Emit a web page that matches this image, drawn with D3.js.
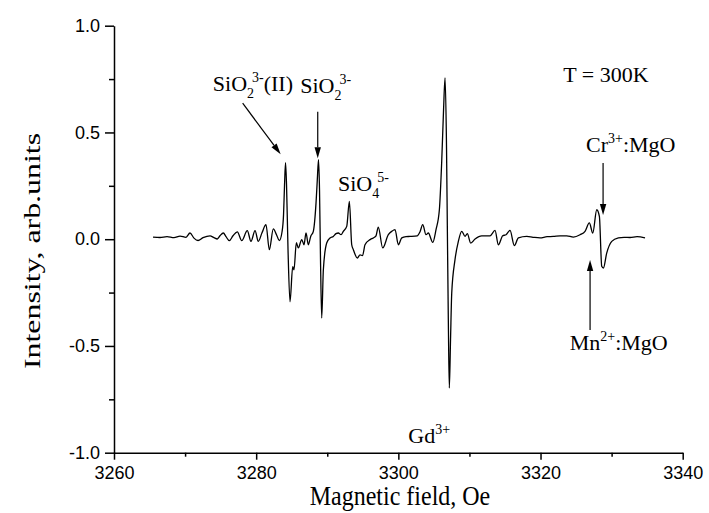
<!DOCTYPE html>
<html><head><meta charset="utf-8">
<script src="https://cdn.jsdelivr.net/npm/d3@7"></script>
<style>html,body{margin:0;padding:0;background:#fff}svg{display:block}</style>
</head><body>
<svg id="c" width="709" height="513"></svg>
<script>
// ---- data ----
const fieldOe = [3265.49,3266.47,3267.46,3268.44,3269.29,3270.13,3270.69,3271.25,3271.82,3272.52,3273.51,3274.07,3274.53,3274.91,3275.38,3275.76,3276.22,3276.74,3277.35,3277.97,3278.75,3279.27,3279.84,3280.30,3280.82,3281.38,3281.85,3282.41,3282.86,3283.26,3283.64,3283.85,3283.99,3284.13,3284.27,3284.48,3284.76,3285.14,3285.32,3285.65,3285.93,3286.41,3286.73,3287.01,3287.34,3287.67,3288.04,3288.42,3288.60,3288.77,3288.91,3289.05,3289.22,3289.45,3289.92,3290.39,3290.85,3291.23,3291.56,3291.94,3292.26,3292.74,3293.11,3293.44,3293.67,3294.23,3294.61,3294.96,3295.31,3296.02,3296.48,3296.86,3297.18,3297.80,3298.59,3299.07,3299.53,3300.00,3300.48,3301.08,3301.64,3302.67,3303.05,3303.43,3303.89,3304.22,3304.84,3305.30,3305.77,3306.11,3306.36,3306.57,3306.78,3306.89,3307.03,3307.17,3307.34,3307.51,3307.97,3308.44,3308.92,3309.38,3309.70,3310.18,3310.79,3311.73,3312.90,3313.60,3314.07,3314.68,3315.15,3315.71,3316.32,3316.88,3318.06,3318.95,3319.93,3320.92,3321.80,3322.75,3323.69,3324.62,3325.56,3326.26,3326.87,3327.35,3327.91,3328.28,3328.61,3328.84,3329.31,3330.02,3330.95,3331.75,3332.59,3333.58,3334.70];
const intensity = [0.010,0.008,0.012,0.007,0.014,0.009,0.029,0.005,-0.006,0.007,0.016,0.007,0.001,0.016,0.029,0.012,-0.007,0.016,0.034,-0.007,0.040,-0.010,0.040,-0.010,0.030,0.068,-0.049,0.048,0.021,-0.006,0.035,0.115,0.255,0.359,0.255,-0.049,-0.293,-0.129,-0.143,-0.016,-0.041,-0.002,-0.026,0.029,-0.026,0.013,0.037,0.170,0.279,0.373,0.232,-0.096,-0.369,-0.143,-0.018,0.006,0.013,0.026,0.029,0.021,0.037,0.060,0.177,-0.026,-0.049,-0.088,-0.073,-0.077,-0.026,-0.002,0.006,0.016,0.057,-0.041,0.021,0.037,0.045,-0.026,0.006,0.012,0.013,0.016,0.035,0.068,0.021,0.029,-0.015,0.045,0.138,0.373,0.607,0.756,0.420,0.060,-0.377,-0.697,-0.471,-0.252,-0.096,-0.010,0.037,0.013,0.026,-0.018,0.001,0.016,0.016,0.041,-0.026,0.016,0.021,0.041,-0.030,0.006,0.013,0.009,0.006,0.012,0.013,0.016,0.016,0.010,0.021,0.037,0.076,0.029,0.138,0.107,-0.127,-0.135,-0.065,-0.010,0.006,0.009,0.008,0.012,0.006];

const xTickValues = [3260,3280,3300,3320,3340];
const xTickLabels = ["3260","3280","3300","3320","3340"];
const xMinorTicks = [3270,3290,3310,3330];
const yTickValues = [1.0,0.5,0.0,-0.5,-1.0];
const yTickLabels = ["1.0","0.5","0.0","-0.5","-1.0"];
const yMinorTicks = [0.75,0.25,-0.25,-0.75];

const xTitle = "Magnetic field, Oe";
const yTitle = "Intensity, arb.units";

// annotation labels: parts [text, kind] ; kind: n normal, b subscript, p superscript
const labelParts = [
  [["SiO","n"],["2","b"],["3-","p"],["(II)","n"]],
  [["SiO","n"],["2","b"],["3-","p"]],
  [["SiO","n"],["4","b"],["5-","p"]],
  [["Gd","n"],["3+","p"]],
  [["Cr","n"],["3+","p"],[":MgO","n"]],
  [["Mn","n"],["2+","p"],[":MgO","n"]],
  [["T = 300K","n"]]
];
const labelX = [3273.9, 3286.2, 3291.5, 3301.4, 3326.4, 3324.1, 3323.2];
const labelY = [0.694, 0.683, 0.227, -0.955, 0.41, -0.519, 0.736];

// arrows: from (x1,y1) to tip (x2,y2)
const arrowX1 = [3278.1, 3288.66, 3328.8, 3326.97];
const arrowY1 = [0.637, 0.597, 0.357, -0.425];
const arrowX2 = [3283.44, 3288.66, 3328.8, 3326.97];
const arrowY2 = [0.398, 0.379, 0.113, -0.097];

// ---- drawing ----
const svg = d3.select("#c");
const x = d3.scaleLinear().domain([3260,3340]).range([114,682.7]);
const y = d3.scaleLinear().domain([-1,1]).range([452.7,25.7]);

const serif = "'Liberation Serif','Times New Roman',serif";
const sans = "'Liberation Sans',Arial,sans-serif";

// axes
const gx = svg.append("g").attr("transform",`translate(0,${y(-1)})`)
  .call(d3.axisBottom(x).tickValues(xTickValues).tickFormat((d,i)=>xTickLabels[i]).tickSizeInner(7).tickSizeOuter(0).tickPadding(7));
const gxm = svg.append("g").attr("transform",`translate(0,${y(-1)})`)
  .call(d3.axisBottom(x).tickValues(xMinorTicks).tickFormat("").tickSizeInner(4).tickSizeOuter(0));
gxm.select(".domain").remove();
const gy = svg.append("g").attr("transform",`translate(${x(3260)},0)`)
  .call(d3.axisLeft(y).tickValues(yTickValues).tickFormat((d,i)=>yTickLabels[i]).tickSizeInner(9).tickSizeOuter(0).tickPadding(5));
const gym = svg.append("g").attr("transform",`translate(${x(3260)},0)`)
  .call(d3.axisLeft(y).tickValues(yMinorTicks).tickFormat("").tickSizeInner(5).tickSizeOuter(0));
gym.select(".domain").remove();
svg.selectAll(".domain, .tick line").attr("stroke","#000").attr("stroke-width",1.5);
svg.selectAll(".tick text").attr("fill","#000").attr("font-family",sans).attr("font-size",18);

// titles (the reference text is stretched slightly)
svg.append("text").attr("transform","translate(400,505) scale(1,1.1)").attr("text-anchor","middle")
  .attr("font-family",serif).attr("font-size",24).text(xTitle);
svg.append("text").attr("transform","translate(40,251) rotate(-90) scale(1.33,1)").attr("text-anchor","middle")
  .attr("font-family",serif).attr("font-size",24).text(yTitle);

// spectrum
const pts = fieldOe.map((f,i)=>[f,intensity[i]]);
svg.append("path").datum(pts)
  .attr("fill","none").attr("stroke","#000").attr("stroke-width",1.3).attr("stroke-linejoin","round")
  .attr("d", d3.line().curve(d3.curveMonotoneX).x(d=>x(d[0])).y(d=>y(d[1])));

// labels
labelParts.forEach((parts,i)=>{
  const t = svg.append("text").attr("x",x(labelX[i])).attr("y",y(labelY[i]))
    .attr("font-family",serif).attr("font-size",22).attr("fill","#000");
  let level = 0;
  parts.forEach(([s,k],j)=>{
    const target = k==="b"?7:(k==="p"?-9:0);
    const ts = t.append("tspan").attr("dy",target-level).attr("font-size",k==="n"?22:14).text(s);
    if(k==="p" && j>0 && parts[j-1][1]==="b") ts.attr("dx",-2);
    level = target;
  });
});

// arrows
arrowX1.forEach((_,i)=>{
  const x1=x(arrowX1[i]), y1=y(arrowY1[i]), x2=x(arrowX2[i]), y2=y(arrowY2[i]);
  const ang = Math.atan2(y2-y1,x2-x1), L=11, W=3.2;
  const bx = x2 - L*Math.cos(ang), by = y2 - L*Math.sin(ang);
  svg.append("line").attr("x1",x1).attr("y1",y1).attr("x2",bx).attr("y2",by)
    .attr("stroke","#000").attr("stroke-width",1.2);
  const px=-Math.sin(ang), py=Math.cos(ang);
  svg.append("path").attr("d",`M${x2},${y2}L${bx+W*px},${by+W*py}L${bx-W*px},${by-W*py}Z`).attr("fill","#000");
});
</script>
</body></html>
